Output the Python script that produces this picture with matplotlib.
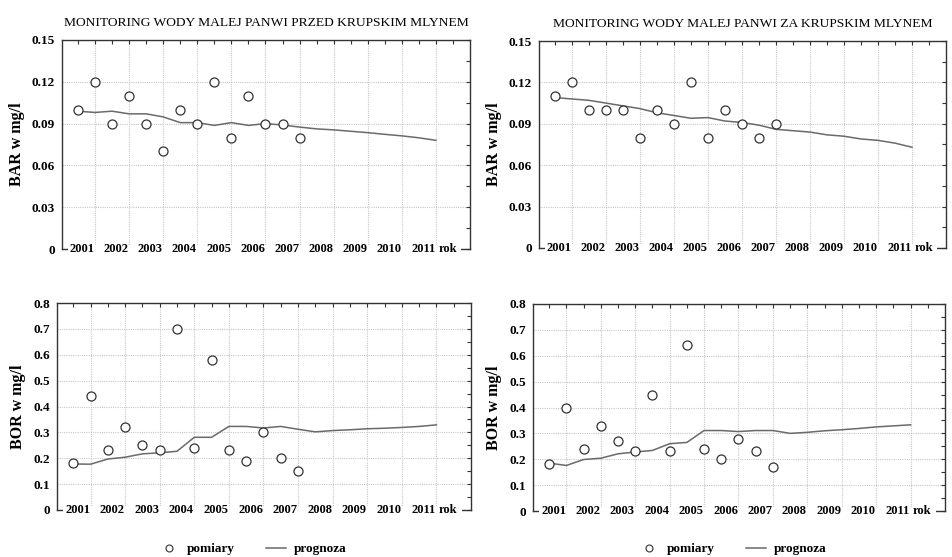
import matplotlib
matplotlib.use("Agg")
import matplotlib.pyplot as plt
from matplotlib.patches import Rectangle
from matplotlib.lines import Line2D
import numpy as np

# ---------------- data ----------------
x_meas = [2001.0, 2001.5, 2002.0, 2002.5, 2003.0, 2003.5, 2004.0, 2004.5,
          2005.0, 2005.5, 2006.0, 2006.5, 2007.0, 2007.5]
x_prog = [2001.0, 2001.5, 2002.0, 2002.5, 2003.0, 2003.5, 2004.0, 2004.5,
          2005.0, 2005.5, 2006.0, 2006.5, 2007.0, 2007.5, 2008.0, 2008.5,
          2009.0, 2009.5, 2010.0, 2010.5, 2011.0, 2011.5]

bar_przed_meas = [0.10, 0.12, 0.09, 0.11, 0.09, 0.07, 0.10, 0.09, 0.12, 0.08, 0.11, 0.09, 0.09, 0.08]
bar_przed_prog = [0.0989, 0.098, 0.0989, 0.097, 0.097, 0.0948, 0.0907, 0.0907, 0.0887, 0.0907, 0.0887,
                  0.090, 0.089, 0.0875, 0.0862, 0.0855, 0.0845, 0.0835, 0.0823, 0.0812, 0.0798, 0.078]

bar_za_meas = [0.11, 0.12, 0.10, 0.10, 0.10, 0.08, 0.10, 0.09, 0.12, 0.08, 0.10, 0.09, 0.08, 0.09]
bar_za_prog = [0.109, 0.108, 0.107, 0.105, 0.103, 0.101, 0.098, 0.096, 0.094, 0.0945, 0.092,
               0.091, 0.089, 0.086, 0.085, 0.084, 0.082, 0.081, 0.079, 0.078, 0.076, 0.073]

bor_przed_meas = [0.18, 0.44, 0.23, 0.32, 0.25, 0.23, 0.70, 0.24, 0.58, 0.23, 0.19, 0.30, 0.20, 0.15]
bor_przed_prog = [0.178, 0.177, 0.197, 0.204, 0.217, 0.221, 0.227, 0.281, 0.281, 0.323, 0.323,
                  0.317, 0.323, 0.312, 0.302, 0.307, 0.310, 0.314, 0.316, 0.319, 0.323, 0.329]

bor_za_meas = [0.18, 0.40, 0.24, 0.33, 0.27, 0.23, 0.45, 0.23, 0.64, 0.24, 0.20, 0.28, 0.23, 0.17]
bor_za_prog = [0.185, 0.176, 0.199, 0.204, 0.221, 0.228, 0.234, 0.260, 0.265, 0.311, 0.311,
               0.307, 0.311, 0.311, 0.300, 0.304, 0.310, 0.314, 0.319, 0.325, 0.329, 0.333]

year_labels = ["2001", "2002", "2003", "2004", "2005", "2006", "2007", "2008", "2009", "2010", "2011"]
label_years = [2001, 2002, 2003, 2004, 2005, 2006, 2007, 2008, 2009, 2010, 2011]

titles = ["MONITORING WODY MALEJ PANWI PRZED KRUPSKIM MLYNEM",
          "MONITORING WODY MALEJ PANWI ZA KRUPSKIM MLYNEM"]

bar_yticks = [0, 0.03, 0.06, 0.09, 0.12, 0.15]
bar_ylabels = ["0", "0.03", "0.06", "0.09", "0.12", "0.15"]
bor_yticks = [0, 0.1, 0.2, 0.3, 0.4, 0.5, 0.6, 0.7, 0.8]
bor_ylabels = ["0", "0.1", "0.2", "0.3", "0.4", "0.5", "0.6", "0.7", "0.8"]

# ---------------- style ----------------
W, H = 952, 557
fig = plt.figure(figsize=(W / 100, H / 100), dpi=100)
SERIF = ["Liberation Serif", "DejaVu Serif"]
LINE_C = "#6a6a6a"
GRID_C = "#c8c8c8"


def px_axes(l, r, t, b):
    return fig.add_axes([l / W, 1 - b / H, (r - l) / W, (b - t) / H])


def style_axes(ax, yticks, ylabels, ylim, yminor, ylabel):
    ax.set_xlim(2000.53, 2012.5)
    ax.set_ylim(*ylim)
    ax.set_xticks(np.arange(2001.5, 2012.0, 1.0))
    ax.set_xticks(np.arange(2001.0, 2012.5, 1.0), minor=True)
    ax.set_yticks(yticks)
    ax.set_yticklabels(ylabels)
    ax.set_yticks(yminor, minor=True)
    ax.tick_params(axis="x", which="both", bottom=False, top=True, direction="in",
                   length=3, width=0.8, color="#333333", labelbottom=False)
    ax.tick_params(axis="y", which="both", left=False, right=True, direction="in",
                   length=3, width=0.8, color="#333333", pad=5)
    for lab in ax.get_yticklabels():
        lab.set_fontfamily(SERIF)
        lab.set_fontweight("bold")
        lab.set_fontsize(9.5)
    ax.grid(True, which="major", color=GRID_C, linestyle=(0, (1, 1)), linewidth=0.8)
    ax.set_axisbelow(True)
    for s in ax.spines.values():
        s.set_color("#333333")
        s.set_linewidth(1.0)
    ax.set_ylabel(ylabel, fontfamily=SERIF, fontweight="bold", fontsize=11.5, labelpad=5)
    # white band covering bottom spine with year labels
    tr = ax.get_xaxis_transform()
    ax.add_patch(Rectangle((2000.71, -0.045), 2012.24 - 2000.71, 0.065, transform=tr,
                           facecolor="white", edgecolor="none", zorder=3, clip_on=False))
    for yr, lab in zip(label_years, year_labels):
        ax.text(yr + 0.49, 0.0, lab, transform=tr, ha="right", va="center",
                fontfamily=SERIF, fontweight="bold", fontsize=9, zorder=4, clip_on=False)
    ax.text(2011.57, 0.0, "rok", transform=tr, ha="left", va="center",
            fontfamily=SERIF, fontweight="bold", fontsize=9, zorder=4, clip_on=False)


def draw(ax, meas, prog):
    ax.plot(x_prog, prog, color=LINE_C, linewidth=1.1, zorder=2)
    ax.plot(x_meas, meas, linestyle="none", marker="o", markersize=6.5,
            markerfacecolor="white", markeredgecolor="#333333", markeredgewidth=0.9, zorder=5)


ax_tl = px_axes(62, 470, 40, 249)
ax_tr = px_axes(539, 946, 41, 248)
ax_bl = px_axes(57, 471, 303, 510)
ax_br = px_axes(533, 945, 304, 511)

draw(ax_tl, bar_przed_meas, bar_przed_prog)
draw(ax_tr, bar_za_meas, bar_za_prog)
draw(ax_bl, bor_przed_meas, bor_przed_prog)
draw(ax_br, bor_za_meas, bor_za_prog)

bar_minor = np.arange(0, 0.1501, 0.015)
bor_minor = np.arange(0, 0.801, 0.05)
style_axes(ax_tl, bar_yticks, bar_ylabels, (0, 0.15), bar_minor, "BAR w mg/l")
style_axes(ax_tr, bar_yticks, bar_ylabels, (0, 0.15), bar_minor, "BAR w mg/l")
style_axes(ax_bl, bor_yticks, bor_ylabels, (0, 0.8), bor_minor, "BOR w mg/l")
style_axes(ax_br, bor_yticks, bor_ylabels, (0, 0.8), bor_minor, "BOR w mg/l")

ax_tl.set_title(titles[0], fontfamily=SERIF, fontsize=9.7, pad=10, x=0.5)
ax_tr.set_title(titles[1], fontfamily=SERIF, fontsize=9.7, pad=10, x=0.5)

handles = [Line2D([], [], linestyle="none", marker="o", markersize=5,
                  markerfacecolor="white", markeredgecolor="#333333", markeredgewidth=0.8),
           Line2D([], [], color=LINE_C, linewidth=1.1)]
for ax, cx in ((ax_bl, 253), (ax_br, 733)):
    leg = ax.legend(handles, ["pomiary", "prognoza"], ncol=2, frameon=False,
                    loc="center", bbox_to_anchor=(cx / W, 1 - 549 / H),
                    bbox_transform=fig.transFigure,
                    prop={"family": SERIF, "weight": "bold", "size": 9.5},
                    handlelength=1.5, columnspacing=2.4, handletextpad=0.6)

fig.savefig("out.png", dpi=100, facecolor="white")
